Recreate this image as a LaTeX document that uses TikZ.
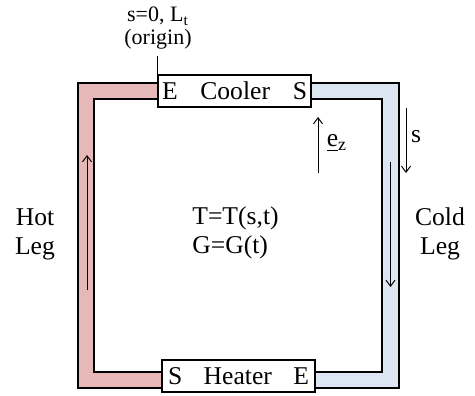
\documentclass[tikz,border=0pt]{standalone}
\usepackage{fontspec}
\setmainfont{Liberation Serif}
\usetikzlibrary{arrows.meta}
\definecolor{hotpink}{HTML}{E6B9B8}
\definecolor{coldblue}{HTML}{DCE6F2}
\begin{document}
\begin{tikzpicture}[x=0.5pt,y=-0.5pt,
  pipe/.style={line width=1.25pt},
  unit/.style={draw, line width=1pt, fill=white, minimum height=16pt, inner ysep=0pt,
    font=\fontsize{12.8pt}{15pt}\selectfont},
  thinarrow/.style={line width=0.5pt, -{Straight Barb[length=3pt,width=4.5pt]}},
  lbl/.style={font=\fontsize{12.8pt}{14.5pt}\selectfont, inner sep=0pt, align=center},
  smalllbl/.style={font=\fontsize{11pt}{11.5pt}\selectfont, inner sep=0pt, align=center}]
\useasboundingbox (0,0) rectangle (475,395);
% pipe fills
\fill[hotpink] (158,83) -- (78,83) -- (78,388) -- (162,388) -- (162,372) -- (94,372) -- (94,99) -- (158,99) -- cycle;
\fill[coldblue] (311,83) -- (399,83) -- (399,388) -- (315,388) -- (315,372) -- (382,372) -- (382,99) -- (311,99) -- cycle;
% pipe outlines
\draw[pipe] (158,83) -- (78,83) -- (78,388) -- (162,388);
\draw[pipe] (158,99) -- (94,99) -- (94,372) -- (162,372);
\draw[pipe] (311,83) -- (399,83) -- (399,388) -- (315,388);
\draw[pipe] (311,99) -- (382,99) -- (382,372) -- (315,372);
% units
\node[unit, inner xsep=2pt, text width=72.5pt] (cooler) at (234.5,91) {E\hfill Cooler\hfill S};
\node[unit, inner xsep=3pt, text width=70.5pt] (heater) at (238.5,376) {S\hfill Heater\hfill E};
% origin
\node[smalllbl, anchor=south] (origin) at (158,50) {s=0, L\textsubscript{t}\\(origin)};
\draw[line width=0.5pt] (cooler.north west) -- ++(0,-18);
% arrows
\coordinate (hotA) at (87,290); \coordinate (hotB) at (87,155);
\coordinate (coldA) at (390.5,162); \coordinate (coldB) at (390.5,287);
\coordinate (ezA) at (318,173); \coordinate (ezB) at (318,117);
\coordinate (sA) at (406,108); \coordinate (sB) at (406,173);
\draw[thinarrow] (hotA) -- (hotB);
\draw[thinarrow] (coldA) -- (coldB);
\draw[thinarrow] (ezA) -- (ezB);
\draw[thinarrow] (sA) -- (sB);
% labels
\node[lbl] (ez) at (337,143) {\underline{e}\textsubscript{z}};
\node[lbl] (slbl) at (416,137) {s};
\node[lbl] (hot) at (35,234) {Hot\\Leg};
\node[lbl] (cold) at (440,234) {Cold\\Leg};
\node[lbl, anchor=west, align=left] (state) at (192,233) {T=T(s,t)\\G=G(t)};
\end{tikzpicture}
\end{document}
